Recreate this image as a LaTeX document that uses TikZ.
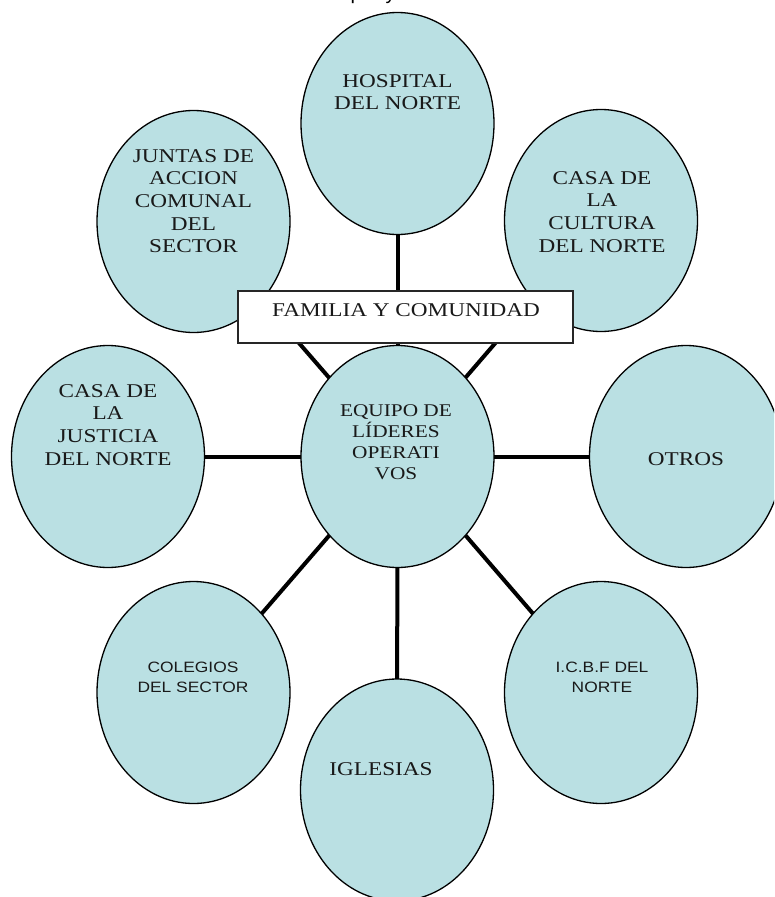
\documentclass[tikz,border=0pt]{standalone}
\usepackage{fontspec}
\setmainfont[FakeStretch=1.19]{Liberation Serif}
\newfontfamily\sansfam[FakeStretch=1.16]{Liberation Sans}
\newfontfamily\plainsans{Liberation Sans}
\usetikzlibrary{shapes.geometric,backgrounds}
\definecolor{bubblefill}{RGB}{186,224,227}
\begin{document}
\begin{tikzpicture}[x=1pt,y=-1pt,
  bubble/.style={ellipse, draw=black, line width=1.3pt, fill=bubblefill,
    minimum width=193pt, minimum height=222pt, inner sep=0pt},
  link/.style={line width=4pt, draw=black},
  lbl/.style={anchor=north, align=center, inner sep=0pt, text=black!90,
    font=\fontsize{19.5}{22.7}\selectfont},
  lblc/.style={anchor=north, align=center, inner sep=0pt, text=black!90,
    font=\fontsize{17.9}{21}\selectfont},
  lbls/.style={anchor=north, align=center, inner sep=0pt, text=black!90,
    font=\sansfam\fontsize{15}{20}\selectfont},
  framebox/.style={draw=black!85, line width=1.2pt, fill=white,
    minimum width=335pt, minimum height=52pt, inner sep=0pt}]
\useasboundingbox (0,0) rectangle (774,897);
\clip (0,0) rectangle (774,897);

% top cut-off text fragment
\node[anchor=base west, inner sep=0pt, font=\plainsans\fontsize{20}{24}\selectfont] (fragp) at (350.5,-1) {p};
\node[anchor=base west, inner sep=0pt, font=\plainsans\fontsize{20}{24}\selectfont] (fragy) at (385.5,-1) {y};

% bubbles
\node[bubble] (hosp) at (397.5,123.5) {};
\node[bubble] (juntas) at (193.5,221.5) {};
\node[bubble] (cultura) at (601,220.5) {};
\node[bubble] (justicia) at (108,456.5) {};
\node[bubble] (equipo) at (397.5,456.5) {};
\node[bubble] (otros) at (686,456.5) {};
\node[bubble] (colegios) at (193.5,692.5) {};
\node[bubble] (icbf) at (601,692.5) {};
\node[bubble] (iglesias) at (397,790) {};

% connectors behind
\begin{scope}[on background layer]
  \draw[link] (equipo.center) -- (hosp.center);
  \draw[link] (equipo.center) -- (juntas.center);
  \draw[link] (equipo.center) -- (cultura.center);
  \draw[link] (equipo.center) -- (justicia.center);
  \draw[link] (equipo.center) -- (otros.center);
  \draw[link] (equipo.center) -- (colegios.center);
  \draw[link] (equipo.center) -- (icbf.center);
  \draw[link] (equipo.center) -- (iglesias.center);
\end{scope}

% box
\node[framebox] (familia) at (405.5,317) {};
\node[lbl] (familiat) at (406,303) {FAMILIA Y COMUNIDAD};

% labels
\node[lbl] (hospt) at (397.5,74) {HOSPITAL\\DEL NORTE};
\node[lbl] (juntast) at (193.5,149) {JUNTAS DE\\ACCION\\COMUNAL\\DEL\\SECTOR};
\node[lbl] (culturat) at (602,171) {CASA DE\\LA\\CULTURA\\DEL NORTE};
\node[lbl] (justiciat) at (108,384) {CASA DE\\LA\\JUSTICIA\\DEL NORTE};
\node[lblc] (equipot) at (396,404) {EQUIPO DE\\LÍDERES\\OPERATI\\VOS};
\node[lbl] (otrost) at (686,452) {OTROS};
\node[lbl] (iglesiast) at (381,762) {IGLESIAS};
\node[lbls] (colegiost) at (193,662) {COLEGIOS\\DEL SECTOR};
\node[lbls] (icbft) at (602,662) {I.C.B.F DEL\\NORTE};
\end{tikzpicture}
\end{document}
